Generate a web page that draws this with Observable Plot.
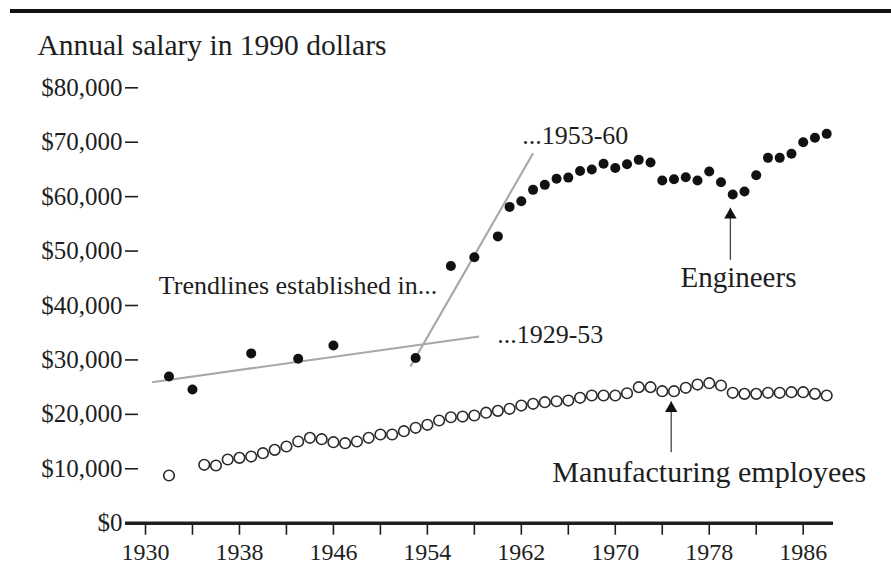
<!DOCTYPE html>
<html>
<head>
<meta charset="utf-8">
<script src="https://cdn.jsdelivr.net/npm/d3@7"></script>
<script src="https://cdn.jsdelivr.net/npm/@observablehq/plot@0.6"></script>
<style>
  html, body { margin: 0; padding: 0; background: #fff; }
  #wrap { position: relative; width: 891px; height: 564px; overflow: hidden; }
  #rule { position: absolute; left: 10px; top: 9px; width: 881px; height: 4px; background: #111; }
  #chart { position: absolute; left: 0; top: 0; }
</style>
</head>
<body>
<div id="wrap"><div id="rule"></div><div id="chart"></div></div>
<script>
const titleText = "Annual salary in 1990 dollars";

const engYears = [1932, 1934, 1939, 1943, 1946, 1953, 1956, 1958, 1960, 1961, 1962, 1963, 1964, 1965, 1966, 1967, 1968, 1969, 1970, 1971, 1972, 1973, 1974, 1975, 1976, 1977, 1978, 1979, 1980, 1981, 1982, 1983, 1984, 1985, 1986, 1987, 1988];
const engSalary = [26950, 24560, 31200, 30200, 32650, 30350, 47250, 48850, 52700, 58120, 59160, 61250, 62170, 63280, 63500, 64700, 64980, 66060, 65260, 65960, 66760, 66260, 62960, 63200, 63570, 62960, 64620, 62650, 60390, 60940, 63940, 67130, 67130, 67870, 70000, 70810, 71540];

const mfgYears = [1932, 1935, 1936, 1937, 1938, 1939, 1940, 1941, 1942, 1943, 1944, 1945, 1946, 1947, 1948, 1949, 1950, 1951, 1952, 1953, 1954, 1955, 1956, 1957, 1958, 1959, 1960, 1961, 1962, 1963, 1964, 1965, 1966, 1967, 1968, 1969, 1970, 1971, 1972, 1973, 1974, 1975, 1976, 1977, 1978, 1979, 1980, 1981, 1982, 1983, 1984, 1985, 1986, 1987, 1988];
const mfgSalary = [8760, 10730, 10600, 11700, 12010, 12250, 12860, 13480, 14090, 15010, 15690, 15430, 14880, 14700, 15010, 15690, 16300, 16300, 16900, 17530, 18080, 18870, 19470, 19600, 19790, 20300, 20650, 21020, 21620, 21940, 22230, 22410, 22540, 23040, 23460, 23460, 23460, 23880, 24990, 24990, 24250, 24250, 24880, 25480, 25720, 25300, 23960, 23770, 23770, 23960, 23960, 24070, 24070, 23770, 23460];

const tickYears = [1930, 1934, 1938, 1942, 1946, 1950, 1954, 1958, 1962, 1966, 1970, 1974, 1978, 1982, 1986];
const labelYears = [1930, 1938, 1946, 1954, 1962, 1970, 1978, 1986];
const yTicks = [0, 10000, 20000, 30000, 40000, 50000, 60000, 70000, 80000];

// trendlines: period label, start (year, salary), end (year, salary)
const trendNames = ["1929-53", "1953-60"];
const trendX1 = [1930.57, 1952.56];
const trendY1 = [25900, 28790];
const trendX2 = [1958.4, 1963.0];
const trendY2 = [34300, 67980];

// annotation texts (anchored in data space)
const noteTexts = ["Trendlines established in...", "...1953-60", "...1929-53", "Engineers", "Manufacturing employees"];
const noteX = [1931.13, 1962.07, 1959.94, 1975.55, 1964.63];
const noteY = [43670, 71230, 34560, 45190, 9315];
const noteSize = [26, 26, 26, 29, 30];

// arrows: x, tail salary, tip salary
const arrowX = [1979.8, 1974.76];
const arrowFrom = [48390, 13040];
const arrowTo = [57950, 22360];

const eng = engYears.map((y, i) => ({year: y, salary: engSalary[i]}));
const mfg = mfgYears.map((y, i) => ({year: y, salary: mfgSalary[i]}));
const trends = trendNames.map((n, i) => ({name: n, x1: trendX1[i], y1: trendY1[i], x2: trendX2[i], y2: trendY2[i]}));
const notes = noteTexts.map((t, i) => ({text: t, x: noteX[i], y: noteY[i], size: noteSize[i]}));
const arrows = arrowX.map((x, i) => ({x, from: arrowFrom[i], to: arrowTo[i]}));

const font = "'Liberation Serif', 'Times New Roman', serif";
const ink = "#1e1e1e";

const chart = Plot.plot({
  width: 891,
  height: 564,
  marginLeft: 138,
  marginRight: 0,
  marginTop: 0,
  marginBottom: 41.3,
  style: {fontFamily: font, color: ink, background: "transparent"},
  x: {domain: [1930, 1986], range: [145, 802.7]},
  y: {domain: [0, 80000], range: [522.7, 87.3]},
  marks: [
    Plot.axisY({ticks: yTicks, tickFormat: d => "$" + d3.format(",")(d), tickSize: 13, tickPadding: 3, fontSize: 25, label: null, stroke: ink, strokeWidth: 1.6, strokeOpacity: 1}),
    Plot.axisX({ticks: tickYears, tickFormat: d => labelYears.includes(d) ? String(d) : "", tickSize: 12, tickPadding: 7.6, fontSize: 24, label: null, stroke: ink, strokeWidth: 1.6, strokeOpacity: 1}),
    Plot.ruleY([0], {x1: 1928.3, x2: 1988.58, stroke: ink, strokeWidth: 3.5}),
    Plot.link(trends, {x1: "x1", y1: "y1", x2: "x2", y2: "y2", stroke: "#a8a8a8", strokeWidth: 2.2}),
    Plot.dot(mfg, {x: "year", y: "salary", r: 5.3, stroke: "#2a2a2a", strokeWidth: 1.6, fill: "white"}),
    Plot.dot(eng, {x: "year", y: "salary", r: 5, fill: "#111", stroke: "none"}),
    Plot.link(arrows, {x1: "x", x2: "x", y1: "from", y2: "to", stroke: "#444", strokeWidth: 1.3}),
    Plot.dot(arrows, {x: "x", y: "to", symbol: "triangle", r: 4.6, fill: "#111", stroke: "none", dy: 7}),
    ...notes.map(n => Plot.text([n], {x: "x", y: "y", text: "text", textAnchor: "start", lineAnchor: "middle", fontSize: n.size, fill: ink})),
    Plot.text([titleText], {x: [1920.8], y: [87820], text: d => d, textAnchor: "start", lineAnchor: "middle", fontSize: 29.5, fill: ink})
  ]
});
document.getElementById("chart").appendChild(chart);
</script>
</body>
</html>
